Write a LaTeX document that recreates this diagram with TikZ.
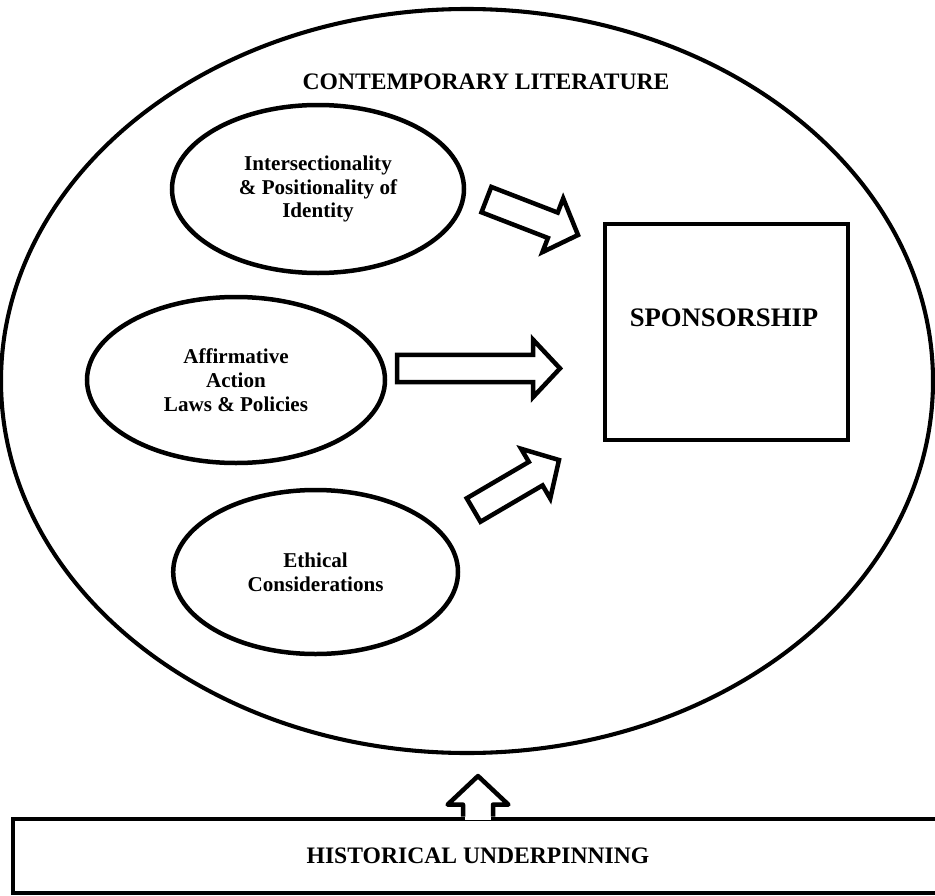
\documentclass[tikz,border=0pt]{standalone}
\usepackage{fontspec}
\setmainfont{Liberation Serif}
\usepackage{tikz}
\usetikzlibrary{calc}
\usetikzlibrary{shapes.geometric}
\tikzset{
	topic/.style={draw,ellipse,line width=3.2pt,inner sep=0pt,align=center,font=\fontsize{15}{17}\selectfont\bfseries},
	heading/.style={font=\fontsize{16.8}{19}\selectfont\bfseries},
	blockline/.style={line width=3.2pt,fill=white,line join=miter},
}
\newcommand{\blockarrow}[2]{%
	\coordinate (#1-base) at ($(#2)!0.675cm!(#1)$);
	\draw[blockline] ($(#1)!0.34cm!90:(#2)$) -- ($(#1-base)!0.34cm!-90:(#1)$) -- ($(#1-base)!0.72cm!-90:(#1)$) -- (#2)
		-- ($(#1-base)!0.72cm!90:(#1)$) -- ($(#1-base)!0.34cm!90:(#1)$) -- ($(#1)!0.34cm!-90:(#2)$) -- cycle;
}

\begin{document}
\begin{tikzpicture}
	\useasboundingbox (0,0) rectangle (23.375,-22.4);
	\clip (0,0) rectangle (23.375,-22.4);
	\node[draw,ellipse,line width=2.9pt,inner sep=0pt,minimum width=23.3cm,minimum height=18.6cm] (lit) at (11.675,-9.525) {};
	\node[heading] (littitle) at (12.15,-2.05) {CONTEMPORARY LITERATURE};
	\node[topic,minimum width=7.3cm,minimum height=4.2cm] (inter) at (7.95,-4.725) {Intersectionality\\\& Positionality of\\Identity};
	\node[topic,minimum width=7.45cm,minimum height=4.15cm] (affirm) at (5.9,-9.5) {Affirmative\\Action\\Laws \& Policies};
	\node[topic,minimum width=7.12cm,minimum height=4.1cm] (ethic) at (7.89,-14.3) {Ethical\\Considerations};
	\node[draw,line width=3.4pt,minimum width=6.075cm,minimum height=5.4cm] (spons) at (18.16,-8.3) {};
	\node[font=\fontsize{19}{22}\selectfont\bfseries] (sponstext) at (18.1,-7.95) {SPONSORSHIP};
	\coordinate (t1) at (12.16,-4.99);
	\coordinate (p1) at (14.45,-5.875);
	\coordinate (t2) at (9.925,-9.21);
	\coordinate (p2) at (14.0,-9.21);
	\coordinate (t3) at (11.84,-12.75);
	\coordinate (p3) at (13.975,-11.5);
	\blockarrow{t1}{p1}
	\blockarrow{t2}{p2}
	\blockarrow{t3}{p3}
	\node[draw,heading,line width=3.4pt,minimum width=23.25cm,minimum height=1.85cm] (hist) at (11.95,-21.4) {HISTORICAL UNDERPINNING};
	\coordinate (up) at (11.95,-19.4);
	\fill[white] ($(hist.north)+(-0.33,-0.08)$) rectangle ($(hist.north)+(0.33,0.05)$);
	\draw[blockline,line join=round] ($(hist.north)+(-0.375,0)$) -- ($(hist.north)+(-0.375,0.3)$) -- ($(hist.north)+(-0.76,0.3)$) -- (up)
		-- ($(hist.north)+(0.76,0.3)$) -- ($(hist.north)+(0.375,0.3)$) -- ($(hist.north)+(0.375,0)$);
\end{tikzpicture}
\end{document}
